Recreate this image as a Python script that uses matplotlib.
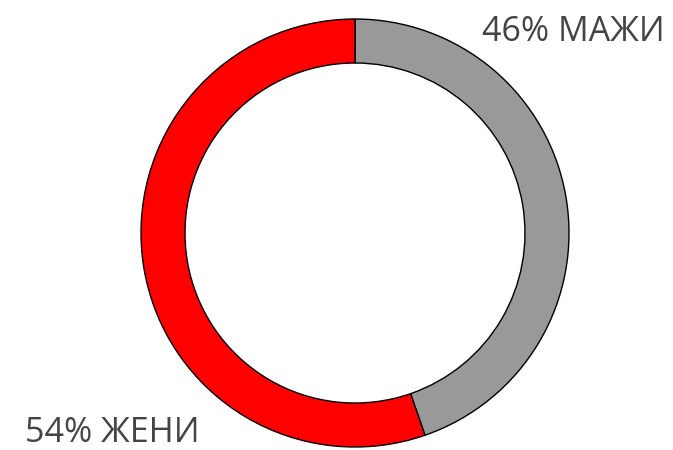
import matplotlib
matplotlib.use("Agg")
import matplotlib.pyplot as plt

# Data (slice sizes as drawn; label texts as printed)
categories = ["МАЖИ", "ЖЕНИ"]
slice_values = [44.7, 55.3]
label_texts = ["46% МАЖИ", "54% ЖЕНИ"]
colors = ["#999999", "#ff0000"]

W, H = 673, 450
fig = plt.figure(figsize=(W / 100, H / 100), dpi=100)
ax = fig.add_axes([0, 0, 1, 1])

cx, cy = 355, H - 233
r_out = 214
ring_w = 44

ax.pie(slice_values, colors=colors, startangle=90, counterclock=False,
       center=(cx, cy), radius=r_out,
       wedgeprops=dict(width=ring_w, edgecolor="black", linewidth=1.0))

ax.set_xlim(0, W)
ax.set_ylim(0, H)
ax.set_aspect("equal")
ax.axis("off")

font = dict(family=["Open Sans", "DejaVu Sans"], fontsize=24.5, color="#444444")
ax.text(665, H - 41, label_texts[0], ha="right", va="baseline", **font)
ax.text(25, H - 442, label_texts[1], ha="left", va="baseline", **font)

fig.savefig("out.png", dpi=100, facecolor="white")
